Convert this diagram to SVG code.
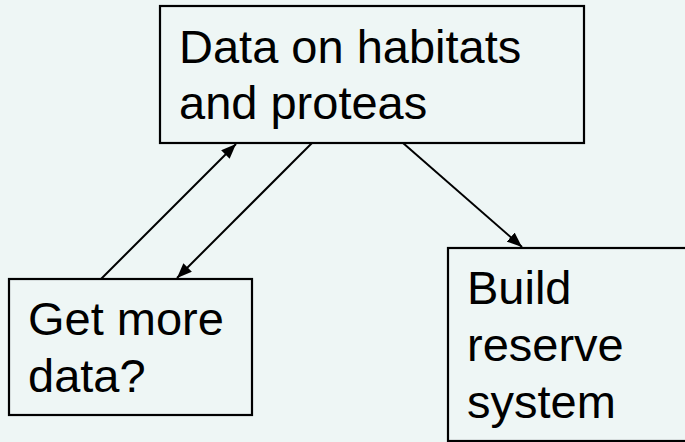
<svg xmlns="http://www.w3.org/2000/svg" width="685" height="442" viewBox="0 0 685 442">
<defs>
<style>
.box{fill:none;stroke:#000;stroke-width:2.2}
.lbl{font-family:"Liberation Sans",Arial,sans-serif;font-size:47px;fill:#000}
.con{stroke:#000;stroke-width:2;fill:none}
</style>
<marker id="ah" viewBox="0 0 15 12" refX="15" refY="6" markerWidth="15" markerHeight="12" markerUnits="userSpaceOnUse" orient="auto">
<path d="M0,0 L15,6 L0,12 Z" fill="#000"/>
</marker>
</defs>
<rect width="685" height="442" fill="#eef6f5"/>
<g id="connectors">
<line class="con" x1="101" y1="279" x2="236" y2="144" marker-end="url(#ah)"/>
<line class="con" x1="312" y1="143" x2="177" y2="278" marker-end="url(#ah)"/>
<line class="con" x1="403" y1="143" x2="522" y2="247" marker-end="url(#ah)"/>
</g>
<g id="node-data">
<rect class="box" x="160" y="6" width="424" height="137"/>
<text class="lbl" x="179" y="63">Data on habitats</text>
<text class="lbl" x="179" y="119">and proteas</text>
</g>
<g id="node-get-more">
<rect class="box" x="9" y="279" width="243" height="136"/>
<text class="lbl" x="28" y="335">Get more</text>
<text class="lbl" x="28" y="392">data?</text>
</g>
<g id="node-build">
<rect class="box" x="448" y="248" width="260" height="193"/>
<text class="lbl" x="467" y="304">Build</text>
<text class="lbl" x="467" y="361">reserve</text>
<text class="lbl" x="467" y="418">system</text>
</g>
</svg>
